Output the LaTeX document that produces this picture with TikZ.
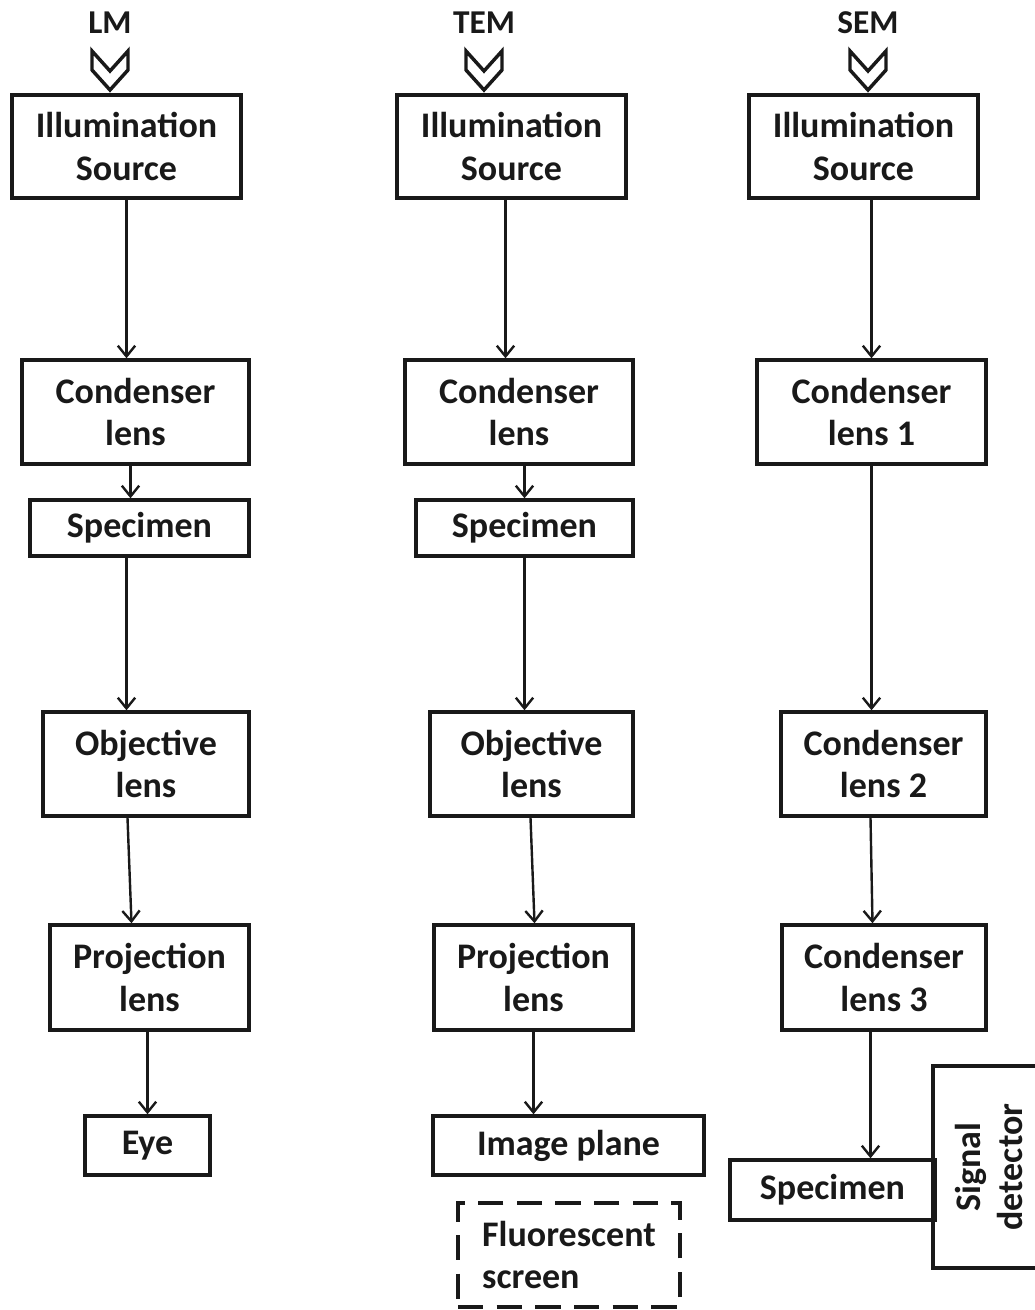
\documentclass[tikz,border=0pt]{standalone}
\usepackage{fontspec}
\setmainfont{Carlito}
\usetikzlibrary{arrows.meta,positioning,calc}
\definecolor{inkblack}{RGB}{25,25,25}
\tikzset{
  blk/.style={draw=inkblack, line width=2.6pt, align=center, inner sep=0pt,
              text=inkblack, font=\bfseries\fontsize{27}{32}\selectfont},
  sz/.style 2 args={minimum width=#1*0.75pt, minimum height=#2*0.75pt},
  dashblk/.style={blk, dash pattern=on 19pt off 10pt},
  flowarr/.style={-{Straight Barb[length=8pt,width=13pt]}, inkblack, line width=1.8pt},
  toplbl/.style={text=inkblack, font=\bfseries\fontsize{25}{28}\selectfont},
  chev/.style={draw=inkblack, line width=2.6pt, line join=miter},
}
\begin{document}
\begin{tikzpicture}[x=0.75pt, y=-0.75pt]
  \useasboundingbox (0,0) rectangle (1035,1310);
  \clip (0,0) rectangle (1035,1310);
  % column heads
  \foreach \lbl/\x in {LM/110,TEM/484,SEM/868}{
    \node[toplbl] (h\lbl) at (\x,23) {\lbl};
    \draw[chev] (\x-18,51) -- (\x,71) -- (\x+18,51) -- (\x+18,70) -- (\x,90) -- (\x-18,70) -- cycle;
  }
  % LM
  \node[blk, sz={229}{103}] (ils_lm) at (126.5,146.5) {Illumination\\Source};
  \node[blk, sz={227}{104}] (cnd_lm) at (135.5,412) {Condenser\\lens};
  \node[blk, sz={219}{56}] (spc_lm) at (139.5,528) {Specimen};
  \node[blk, sz={206}{104}] (obj_lm) at (146,764) {Objective\\lens};
  \node[blk, sz={199}{105}] (prj_lm) at (149.5,977.5) {Projection\\lens};
  \node[blk, sz={125}{59}] (eye_lm) at (147.5,1145.5) {Eye};
  % TEM
  \node[blk, sz={229}{103}] (ils_tem) at (511.5,146.5) {Illumination\\Source};
  \node[blk, sz={228}{104}] (cnd_tem) at (519,412) {Condenser\\lens};
  \node[blk, sz={217}{56}] (spc_tem) at (524.5,528) {Specimen};
  \node[blk, sz={203}{104}] (obj_tem) at (531.5,764) {Objective\\lens};
  \node[blk, sz={199}{105}] (prj_tem) at (533.5,977.5) {Projection\\lens};
  \node[blk, sz={271}{59}] (img_tem) at (568.5,1145.5) {Image plane};
  \node[dashblk, sz={222}{104}, align=left] (flu_tem) at (569,1255) {Fluorescent\\screen};
  % SEM
  \node[blk, sz={229}{103}] (ils_sem) at (863.5,146.5) {Illumination\\Source};
  \node[blk, sz={229}{104}] (cnd1_sem) at (871.5,412) {Condenser\\lens 1};
  \node[blk, sz={205}{104}] (cnd2_sem) at (883.5,764) {Condenser\\lens 2};
  \node[blk, sz={204}{105}] (cnd3_sem) at (884,977.5) {Condenser\\lens 3};
  \node[blk, sz={205}{60}] (spc_sem) at (832.5,1190) {Specimen};
  \node[blk, sz={202}{112}, rotate=90] (det_sem) at (989,1167) {Signal\\detector};
  % arrows
  \draw[flowarr] (ils_lm.south) -- (ils_lm.south |- cnd_lm.north);
  \draw[flowarr] ($(cnd_lm.south -| ils_lm.south)+(4,0)$) -- ($(spc_lm.north -| ils_lm.south)+(4,0)$);
  \draw[flowarr] (spc_lm.south -| ils_lm.south) -- (obj_lm.north -| ils_lm.south);
  \draw[flowarr] ($(obj_lm.south -| ils_lm.south)+(1,0)$) -- ($(prj_lm.north -| ils_lm.south)+(5,0)$);
  \draw[flowarr] (prj_lm.south -| eye_lm.north) -- (eye_lm.north);
  \draw[flowarr] ($(ils_tem.south)+(-6,0)$) -- ($(ils_tem.south |- cnd_tem.north)+(-6,0)$);
  \draw[flowarr] (cnd_tem.south -| spc_tem.north) -- (spc_tem.north);
  \draw[flowarr] (spc_tem.south) -- (spc_tem.south |- obj_tem.north);
  \draw[flowarr] ($(obj_tem.south)+(-1,0)$) -- ($(prj_tem.north)+(1,0)$);
  \draw[flowarr] (prj_tem.south) -- (prj_tem.south |- img_tem.north);
  \draw[flowarr] (ils_sem.south -| cnd1_sem.north) -- (cnd1_sem.north);
  \draw[flowarr] (cnd1_sem.south) -- (cnd2_sem.north -| cnd1_sem.north);
  \draw[flowarr] ($(cnd2_sem.south -| cnd1_sem.north)+(-1,0)$) -- ($(cnd3_sem.north -| cnd1_sem.north)+(1,0)$);
  \draw[flowarr] ($(cnd3_sem.south -| cnd1_sem.north)+(-1,0)$) -- ($(spc_sem.north -| cnd1_sem.north)+(-1,0)$);
\end{tikzpicture}
\end{document}
